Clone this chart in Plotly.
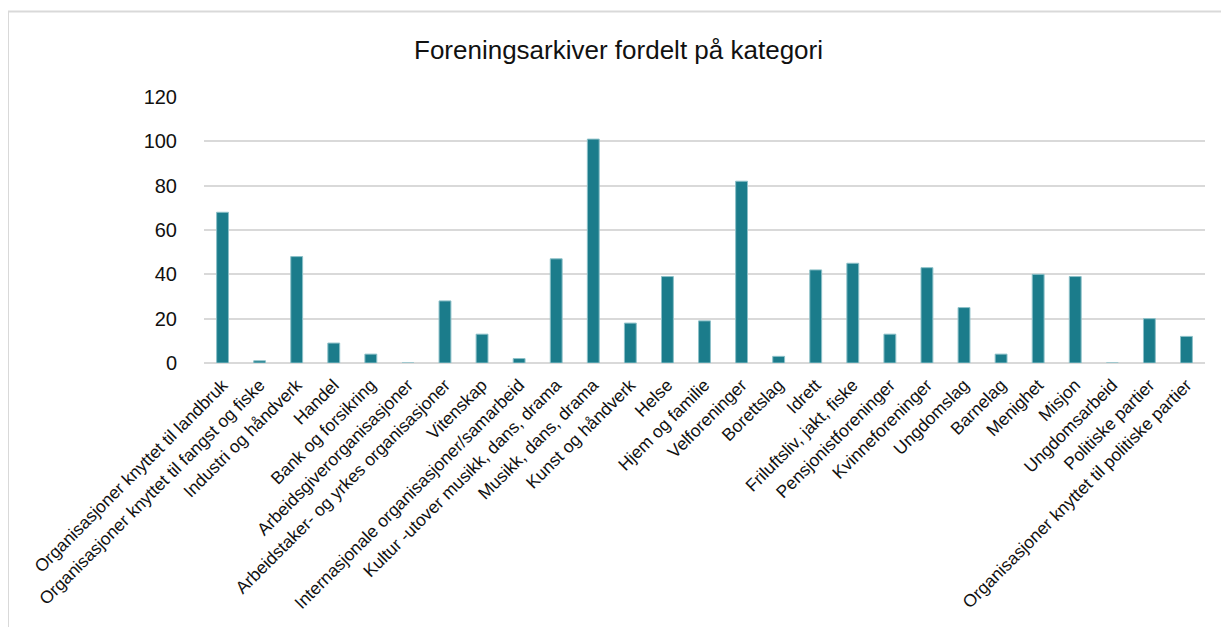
import plotly.graph_objects as go

# Data
kategorier = [
    "Organisasjoner knyttet til landbruk",
    "Organisasjoner knyttet til fangst og fiske",
    "Industri og håndverk",
    "Handel",
    "Bank og forsikring",
    "Arbeidsgiverorganisasjoner",
    "Arbeidstaker- og yrkes organisasjoner",
    "Vitenskap",
    "Internasjonale organisasjoner/samarbeid",
    "Kultur -utover musikk, dans, drama",
    "Musikk, dans, drama",
    "Kunst og håndverk",
    "Helse",
    "Hjem og familie",
    "Velforeninger",
    "Borettslag",
    "Idrett",
    "Friluftsliv, jakt, fiske",
    "Pensjonistforeninger",
    "Kvinneforeninger",
    "Ungdomslag",
    "Barnelag",
    "Menighet",
    "Misjon",
    "Ungdomsarbeid",
    "Politiske partier",
    "Organisasjoner knyttet til politiske partier",
]
antall = [68, 1, 48, 9, 4, 0, 28, 13, 2, 47, 101, 18, 39, 19, 82, 3,
          42, 45, 13, 43, 25, 4, 40, 39, 0, 20, 12]
y_ticks = [0, 20, 40, 60, 80, 100, 120]

# the page body has an 8px margin, so the figure is a bit smaller than the window
W, H = 1221, 619
ml, mr, mt, mb = 196, 24, 89, 264
pw, ph = W - ml - mr, H - mt - mb

def px_x(p):
    return (p - ml) / pw

def px_y(p):
    return (H - mb - p) / ph

fig = go.Figure()
fig.add_trace(go.Bar(
    x=kategorier, y=antall,
    marker=dict(color="#1b7c8b", line=dict(color="#8cc0c8", width=1)),
    width=0.32,
))

font = "Liberation Sans, Arial, sans-serif"
fig.update_layout(
    width=W, height=H,
    margin=dict(l=ml, r=mr, t=mt, b=mb),
    paper_bgcolor="white", plot_bgcolor="white",
    showlegend=False,
    font=dict(family=font, color="#111111"),
    title=dict(text="Foreningsarkiver fordelt på kategori", x=0.5, xanchor="center",
               y=1 - 42 / H, yanchor="middle", font=dict(size=26, family=font, color="#111111")),
    shapes=[dict(type="rect", xref="paper", yref="paper",
                 x0=px_x(0), x1=px_x(1240), y0=px_y(640), y1=px_y(3.5),
                 line=dict(color="#d9d9d9", width=2), layer="below")],
)
fig.update_xaxes(
    tickangle=-45, tickfont=dict(size=17.5, family=font, color="#111111"),
    showgrid=False, showline=False, ticks="outside", ticklen=4, tickcolor="rgba(0,0,0,0)",
    range=[-0.5, len(kategorier) - 0.5],
)
fig.update_yaxes(
    range=[0, 120], tickvals=y_ticks,
    tickfont=dict(size=20, family=font, color="#111111"),
    showgrid=True, gridcolor="#d9d9d9", gridwidth=1.5,
    zeroline=True, zerolinecolor="#d9d9d9", zerolinewidth=1.5,
    ticks="outside", ticklen=22, tickcolor="rgba(0,0,0,0)",
)

fig.write_html("out.html")
